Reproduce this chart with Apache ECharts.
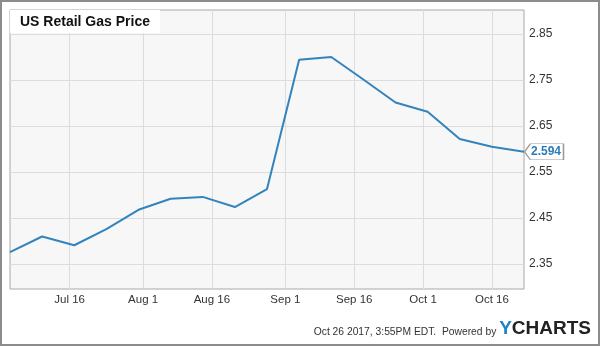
<!DOCTYPE html>
<html>
<head>
<meta charset="utf-8">
<script src="https://cdn.jsdelivr.net/npm/echarts@6/dist/echarts.min.js"></script>
<style>html,body{margin:0;padding:0;background:#fff}#c{width:600px;height:346px}</style>
</head>
<body>
<div id="c"></div>
<script>
var dates = ['2017-07-03','2017-07-10','2017-07-17','2017-07-24','2017-07-31','2017-08-07','2017-08-14','2017-08-21','2017-08-28','2017-09-04','2017-09-11','2017-09-18','2017-09-25','2017-10-02','2017-10-09','2017-10-16','2017-10-23'];
var prices = [2.376, 2.410, 2.391, 2.426, 2.468, 2.492, 2.496, 2.474, 2.513, 2.794, 2.800, 2.751, 2.701, 2.681, 2.622, 2.605, 2.594];
var xTickDates = ['2017-07-16','2017-08-01','2017-08-16','2017-09-01','2017-09-16','2017-10-01','2017-10-16'];
var yTicks = [2.35, 2.45, 2.55, 2.65, 2.75, 2.85];
var months = ['Jan','Feb','Mar','Apr','May','Jun','Jul','Aug','Sep','Oct','Nov','Dec'];

function ts(s){ var p = s.split('-'); return Date.UTC(+p[0], +p[1]-1, +p[2]); }
var seriesData = dates.map(function(d,i){ return [ts(d), prices[i]]; });
var xTicks = xTickDates.map(ts);
var last = seriesData[seriesData.length-1];

var chart = echarts.init(document.getElementById('c'));
chart.setOption({
  animation: false,
  backgroundColor: '#fff',
  title: [{
    text: 'US Retail Gas Price',
    left: 10, top: 10,
    backgroundColor: '#fff',
    padding: [5, 10, 4, 10],
    textStyle: { fontFamily: 'Liberation Sans', fontSize: 14, fontWeight: 'bold', color: '#111' }
  }, {
    text: '{a|Oct 26 2017, 3:55PM EDT.  Powered by }{y|Y}{c|CHARTS}',
    right: 9, bottom: 8,
    padding: 0,
    textStyle: {
      fontWeight: 'normal',
      rich: {
        a: { fontFamily: 'Liberation Sans', fontSize: 10.3, fontWeight: 'normal', color: '#333', verticalAlign: 'bottom', padding: [0,0,1,0] },
        y: { fontFamily: 'Liberation Sans', fontSize: 19, fontWeight: 'bold', color: '#1f84c7' },
        c: { fontFamily: 'Liberation Sans', fontSize: 19, fontWeight: 'bold', color: '#222' }
      }
    }
  }],
  graphic: [{
    type: 'rect', silent: true,
    shape: { x: 1, y: 1, width: 598, height: 344 },
    style: { fill: 'none', stroke: '#8c8c8c', lineWidth: 2 }
  }],
  grid: {
    left: 10, right: 76, top: 10, bottom: 57,
    show: true, backgroundColor: '#f7f7f7', borderColor: '#a8a8a8', borderWidth: 1
  },
  xAxis: {
    type: 'value',
    min: ts(dates[0]), max: ts(dates[dates.length-1]),
    axisLine: { show: false },
    axisTick: { show: false, customValues: xTicks },
    axisLabel: {
      customValues: xTicks,
      margin: 5,
      fontFamily: 'Liberation Sans', fontSize: 11.5, color: '#333',
      formatter: function(v){ var d = new Date(v); return months[d.getUTCMonth()] + ' ' + d.getUTCDate(); }
    },
    splitLine: { show: true, lineStyle: { color: '#dcdcdc', width: 1 } }
  },
  yAxis: {
    type: 'value',
    position: 'right',
    min: 2.296, max: 2.902,
    axisLine: { show: false },
    axisTick: { show: false, customValues: yTicks },
    axisLabel: {
      customValues: yTicks,
      margin: 5,
      fontFamily: 'Liberation Sans', fontSize: 12, color: '#333',
      formatter: function(v){ return v.toFixed(2); }
    },
    splitLine: { show: true, lineStyle: { color: '#dcdcdc', width: 1 } }
  },
  series: [{
    type: 'line',
    data: seriesData,
    showSymbol: false,
    symbol: 'none',
    lineStyle: { color: '#3383bd', width: 2 },
    markPoint: {
      silent: true,
      symbol: 'path://M0,8 L6,0 L40,0 L40,16 L6,16 Z',
      symbolSize: [39, 16],
      symbolKeepAspect: false,
      symbolOffset: [20, 0],
      itemStyle: { color: '#fff', borderColor: '#9a9a9a', borderWidth: 1 },
      label: {
        show: true, position: 'inside', offset: [2, 0],
        fontFamily: 'Liberation Sans', fontSize: 12, fontWeight: 'bold', color: '#2a7cb9',
        formatter: function(p){ return p.value.toFixed(3); }
      },
      data: [{ coord: last, value: last[1] }]
    }
  }]
});
</script>
</body>
</html>
